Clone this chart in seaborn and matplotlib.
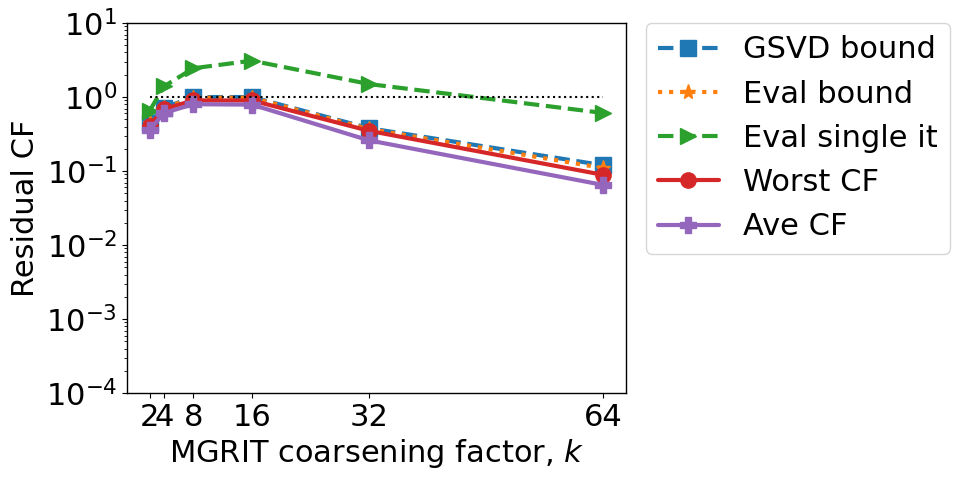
import matplotlib
matplotlib.use("Agg")
import matplotlib.pyplot as plt
import seaborn as sns
import pandas as pd

k_values = [2, 4, 8, 16, 32, 64]
gsvd_bound = [0.45, 0.72, 1.0, 1.0, 0.38, 0.12]
eval_bound = [0.44, 0.71, 0.98, 0.98, 0.37, 0.11]
eval_single_it = [0.65, 1.4, 2.45, 3.1, 1.5, 0.61]
worst_cf = [0.41, 0.69, 0.9, 0.9, 0.35, 0.089]
ave_cf = [0.36, 0.61, 0.8, 0.79, 0.26, 0.065]
labels = ["GSVD bound", "Eval bound", "Eval single it", "Worst CF", "Ave CF"]
xtick_labels = ["2", "4", "8", "16", "32", "64"]

sns.set_style("ticks")
plt.rcParams['font.family'] = ['DejaVu Sans']
plt.rcParams['mathtext.fontset'] = 'dejavusans'
plt.rcParams['text.color'] = 'black'
plt.rcParams['axes.labelcolor'] = 'black'
plt.rcParams['xtick.color'] = 'black'
plt.rcParams['ytick.color'] = 'black'
plt.rcParams['axes.edgecolor'] = 'black'

fig = plt.figure(figsize=(9.61, 4.8), dpi=100)
ax = fig.add_axes([0.132, 0.181, 0.519, 0.771])

series = [gsvd_bound, eval_bound, eval_single_it, worst_cf, ave_cf]
colors = ["#1f77b4", "#ff7f0e", "#2ca02c", "#d62728", "#9467bd"]
markers = ["s", "*", ">", "o", "P"]
styles = ["--", ":", "--", "-", "-"]

for vals, lab, c, m, ls in zip(series, labels, colors, markers, styles):
    df = pd.DataFrame({"k": k_values, "v": vals})
    sns.lineplot(data=df, x="k", y="v", ax=ax, color=c, marker=m, linestyle=ls,
                 linewidth=3, markersize=11, label=lab, markeredgewidth=1,
                 markeredgecolor=c)

ref = pd.DataFrame({"k": [k_values[0], k_values[-1]], "v": [1.0, 1.0]})
sns.lineplot(data=ref, x="k", y="v", ax=ax, color="black", linestyle=":", linewidth=1.5)

ax.set_yscale("log")
ax.set_ylim(1e-4, 1e1)
ax.set_xticks(k_values)
ax.set_xticklabels(xtick_labels)
ax.tick_params(axis="both", labelsize=22, colors="black")
ax.set_xlabel("MGRIT coarsening factor, $k$", fontsize=22, color="black")
ax.set_ylabel("Residual CF", fontsize=22, color="black")
for sp in ax.spines.values():
    sp.set_color("black")
    sp.set_linewidth(1.0)

handles, labs = ax.get_legend_handles_labels()
leg = ax.legend(handles[:5], labs[:5], loc="upper left", bbox_to_anchor=(1.04, 1.0),
                borderaxespad=0, fontsize=22, frameon=True, handlelength=2)
for t in leg.get_texts():
    t.set_color("black")

fig.savefig("out.png", dpi=100)
